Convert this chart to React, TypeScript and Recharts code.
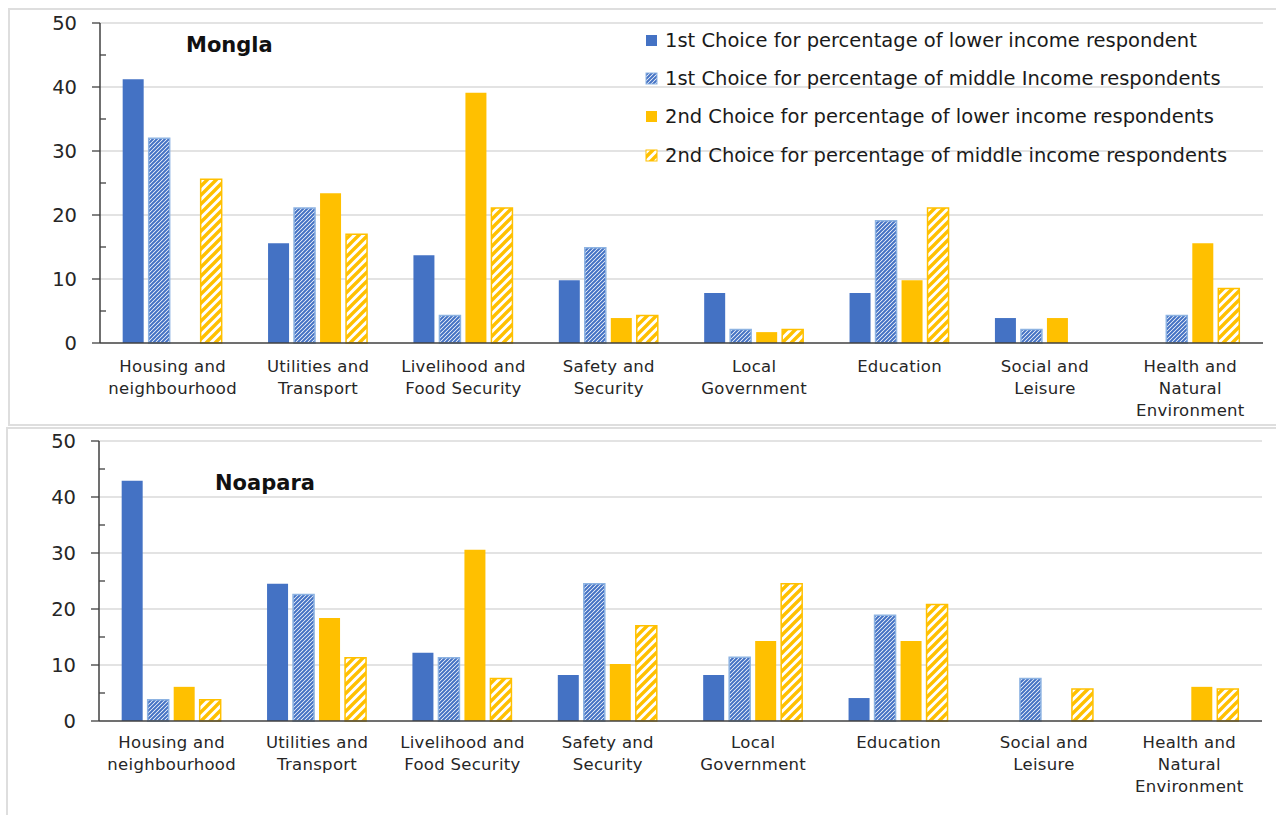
import { BarChart, Bar, XAxis, YAxis, CartesianGrid, Legend } from 'recharts';

const categories = [
  'Housing and\nneighbourhood',
  'Utilities and\nTransport',
  'Livelihood and\nFood Security',
  'Safety and\nSecurity',
  'Local\nGovernment',
  'Education',
  'Social and\nLeisure',
  'Health and\nNatural\nEnvironment',
];

// Mongla (percent)
const monglaLower1st = [41.2, 15.6, 13.7, 9.8, 7.8, 7.8, 3.9, 0];
const monglaMiddle1st = [32.0, 21.1, 4.3, 14.9, 2.1, 19.1, 2.1, 4.3];
const monglaLower2nd = [0, 23.4, 39.1, 3.9, 1.7, 9.8, 3.9, 15.6];
const monglaMiddle2nd = [25.6, 17.0, 21.1, 4.3, 2.1, 21.1, 0, 8.5];

// Noapara (percent)
const noaparaLower1st = [42.9, 24.5, 12.2, 8.2, 8.2, 4.1, 0, 0];
const noaparaMiddle1st = [3.8, 22.6, 11.3, 24.5, 11.4, 18.9, 7.6, 0];
const noaparaLower2nd = [6.1, 18.4, 30.6, 10.2, 14.3, 14.3, 0, 6.1];
const noaparaMiddle2nd = [3.8, 11.3, 7.6, 17.0, 24.5, 20.8, 5.7, 5.7];

const valueTicks = [0, 5, 10, 15, 20, 25, 30, 35, 40, 45, 50];
const gridValues = [10, 20, 30, 40, 50];

const BLUE = '#4472c4';
const LIGHT_BLUE = '#8db3e2';
const GOLD = '#ffc000';
const FONT = '"DejaVu Sans", Verdana, sans-serif';

const series = [
  { key: 'lower1st', name: '1st Choice for percentage of lower income respondent', fill: BLUE, stroke: 'none' },
  { key: 'middle1st', name: '1st Choice for percentage of middle Income respondents', fill: 'url(#hatchBlue)', stroke: LIGHT_BLUE },
  { key: 'lower2nd', name: '2nd Choice for percentage of lower income respondents', fill: GOLD, stroke: 'none' },
  { key: 'middle2nd', name: '2nd Choice for percentage of middle income respondents', fill: 'url(#hatchGold)', stroke: GOLD },
];

function buildRows(a: number[], b: number[], c: number[], d: number[]) {
  return categories.map((name, i) => ({
    name,
    lower1st: a[i],
    middle1st: b[i],
    lower2nd: c[i],
    middle2nd: d[i],
  }));
}

const monglaData = buildRows(monglaLower1st, monglaMiddle1st, monglaLower2nd, monglaMiddle2nd);
const noaparaData = buildRows(noaparaLower1st, noaparaMiddle1st, noaparaLower2nd, noaparaMiddle2nd);

function CategoryTick(props: any) {
  const { x, y, payload, firstDy, lineGap } = props;
  const lines = String(payload.value).split('\n');
  return (
    <text x={x} y={y} textAnchor="middle" fontSize={16.5} letterSpacing={0.3} fill="#262626" fontFamily={FONT}>
      {lines.map((l, i) => (
        <tspan key={i} x={x} dy={i === 0 ? firstDy : lineGap}>
          {l}
        </tspan>
      ))}
    </text>
  );
}

// tickSize 8 + tickMargin 15 -> axis line sits 23px right of x
function ValueTick(props: any) {
  const { x, y, payload } = props;
  const v = payload.value;
  const ax = x + 23;
  if (v % 10 !== 0) {
    return <line x1={ax} x2={ax + 6} y1={y} y2={y} stroke="#404040" strokeWidth={1.3} />;
  }
  return (
    <g>
      <line x1={ax - 8} x2={ax} y1={y} y2={y} stroke="#404040" strokeWidth={1.3} />
      <text x={x} y={y} dy="0.36em" textAnchor="end" fontSize={19.5} fill="#262626" fontFamily={FONT}>
        {v}
      </text>
    </g>
  );
}

function LegendBox() {
  return (
    <div style={{ fontFamily: FONT, fontSize: 19.5, color: '#1a1a1a' }}>
      {series.map((s) => (
        <div key={s.key} style={{ display: 'flex', alignItems: 'center', height: 38.3, whiteSpace: 'nowrap' }}>
          <svg width={13} height={13} style={{ flex: 'none' }}>
            <rect x={1} y={1} width={11} height={11} fill={s.fill} stroke={s.stroke} strokeWidth={1} />
          </svg>
          <span style={{ marginLeft: 7 }}>{s.name}</span>
        </div>
      ))}
    </div>
  );
}

function Panel(props: any) {
  const { data, height, margin, firstDy, withLegend } = props;
  return (
    <BarChart
      width={1276}
      height={height}
      data={data}
      margin={margin}
      barCategoryGap="15.6%"
      barGap={5}
    >
      <CartesianGrid vertical={false} horizontalValues={gridValues} stroke="#dadada" strokeWidth={1.5} />
      <XAxis
        dataKey="name"
        height={70}
        interval={0}
        tickLine={false}
        axisLine={{ stroke: '#404040', strokeWidth: 1.5 }}
        tick={<CategoryTick firstDy={firstDy} lineGap={22} />}
      />
      <YAxis
        width={60}
        domain={[0, 50]}
        ticks={valueTicks}
        interval={0}
        tickLine={false}
        tickSize={8}
        tickMargin={15}
        axisLine={{ stroke: '#404040', strokeWidth: 1.5 }}
        tick={<ValueTick />}
      />
      {withLegend && (
        <Legend
          layout="vertical"
          align="center"
          verticalAlign="middle"
          content={<LegendBox />}
          wrapperStyle={{ top: 21, left: 645, width: 630 }}
        />
      )}
      {series.map((s) => (
        <Bar
          key={s.key}
          dataKey={s.key}
          name={s.name}
          fill={s.fill}
          stroke={s.stroke}
          strokeWidth={s.stroke === 'none' ? 0 : 1.5}
          isAnimationActive={false}
        />
      ))}
    </BarChart>
  );
}

const titleStyle: any = {
  position: 'absolute',
  fontFamily: FONT,
  fontWeight: 'bold',
  fontSize: 21,
  color: '#111',
  whiteSpace: 'nowrap',
};

export default function App() {
  return (
    <div style={{ position: 'absolute', left: 0, top: 0, width: 1276, height: 815, background: '#fff', overflow: 'hidden' }}>
      <svg width={0} height={0} style={{ position: 'absolute' }}>
        <defs>
          <pattern id="hatchBlue" patternUnits="userSpaceOnUse" width={4} height={4}>
            <rect width={4} height={4} fill="#fff" />
            <path d="M-1,1 l2,-2 M0,4 l4,-4 M3,5 l2,-2" stroke={BLUE} strokeWidth={2} />
          </pattern>
          <pattern id="hatchGold" patternUnits="userSpaceOnUse" width={9} height={9}>
            <rect width={9} height={9} fill="#fff" />
            <path d="M-2,2 l4,-4 M0,9 l9,-9 M7,11 l4,-4" stroke={GOLD} strokeWidth={3.4} />
          </pattern>
        </defs>
      </svg>

      <div style={{ position: 'absolute', left: 8, top: 8, width: 1290, height: 414, border: '2px solid #dedede' }} />
      <div style={{ position: 'absolute', left: 6, top: 427, width: 1290, height: 400, border: '2px solid #dedede' }} />

      <div style={{ position: 'absolute', left: 0, top: 0 }}>
        <Panel
          data={monglaData}
          height={425}
          margin={{ top: 23, right: 13, bottom: 12, left: 40 }}
          firstDy={21}
          withLegend
        />
      </div>
      <div style={{ ...titleStyle, left: 186, top: 33 }}>Mongla</div>

      <div style={{ position: 'absolute', left: 0, top: 427 }}>
        <Panel
          data={noaparaData}
          height={388}
          margin={{ top: 14, right: 14, bottom: 24, left: 39 }}
          firstDy={19}
        />
      </div>
      <div style={{ ...titleStyle, left: 215, top: 471 }}>Noapara</div>
    </div>
  );
}
